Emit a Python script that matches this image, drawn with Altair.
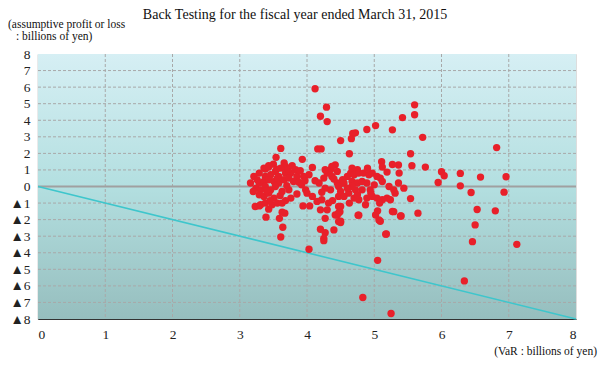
import altair as alt
import pandas as pd

# VaR (billions of yen) and assumptive profit/loss (billions of yen)
VAR = [
    4.12, 4.29, 4.20, 4.30, 4.89, 5.02, 4.72, 4.68, 4.66, 4.50, 4.16, 4.21, 4.63, 3.61, 3.54, 3.93, 4.08,
    5.60, 5.60, 5.42, 5.27, 5.72, 5.54, 6.82, 5.11, 5.12, 5.27, 5.36, 5.56, 5.76, 5.19, 5.37, 6.00, 6.04,
    6.28, 6.58, 6.96, 5.95, 6.28, 6.44, 6.93, 5.54, 6.53, 6.80, 6.50, 5.65, 5.40, 5.29,
    6.46, 7.12, 5.05, 6.34, 5.25, 5.18, 5.09, 5.05, 5.02,
    4.83, 4.03, 4.25, 4.20, 4.27, 4.40, 4.50, 4.27, 3.61, 3.64, 3.59, 3.67, 3.63, 3.39, 4.77, 4.49, 4.45,
    3.94, 4.04, 3.29, 3.23, 3.43, 4.25,
    3.43, 3.36, 3.66, 3.68, 3.61, 3.83, 3.53, 3.29, 3.21, 3.16, 3.38, 3.46, 3.58, 3.68, 3.76, 3.85, 3.95,
    4.03, 3.29, 3.36, 3.43, 3.51, 3.58, 3.66, 3.73, 3.80, 3.24, 3.31, 3.38, 3.46, 3.53, 3.29, 3.36, 3.43,
    3.51, 3.63, 3.73, 3.76, 3.98, 4.00, 3.31, 3.38, 3.48, 3.56, 3.63, 3.38, 3.43,
    3.50, 3.72, 3.90, 3.88, 3.70, 3.60, 3.45, 3.85, 3.92, 3.56, 3.26, 3.40, 3.55, 3.78, 3.97, 3.20, 3.68,
    4.18, 4.25, 4.30, 4.35, 4.42, 4.45, 4.37, 4.27, 4.35, 4.45, 4.52, 4.60, 4.08, 4.15, 4.22, 4.32, 4.47,
    4.47, 4.20, 4.30, 4.42, 4.47, 4.27, 4.37,
    4.67, 4.75, 4.65, 4.70, 4.77, 4.84, 4.92, 4.97, 5.04, 5.09, 5.12, 4.53, 4.55, 4.47, 4.50, 4.67, 4.75,
    4.82, 4.89, 4.94, 4.82, 4.72, 4.67, 5.22, 5.29, 5.36, 5.44, 5.31, 4.55, 4.62, 4.70, 4.77, 4.75, 4.89,
    4.97, 5.04, 5.12, 5.19, 5.24, 4.87, 4.50, 4.47, 4.50, 4.76, 5.07, 5.27, 5.39, 5.17, 4.63, 4.90, 5.00,
    4.60, 4.40, 4.12, 4.22, 4.95, 5.08, 4.38,
]
PL = [
    5.90, 4.79, 4.24, 3.92, 3.44, 3.68, 3.24, 3.20, 2.89, 2.77, 2.27, 2.27, 1.98, 2.30, 1.76, 1.64, 1.15,
    4.93, 4.33, 4.16, 3.42, 2.97, 1.98, 2.35, 1.50, 1.17, 1.33, 1.30, 1.25, 1.17, 0.87, 0.81, 0.89, 0.65,
    0.79, 0.57, 0.59, 0.24, 0.04, -0.36, -0.34, -0.73, -1.39, -1.47, -2.32, -1.61, -1.78, -1.52,
    -3.33, -3.49, -4.46, -5.70, -7.67, -2.87, -2.10, -1.47, -1.72,
    -6.70, -3.79, -3.27, -2.58, -2.79, -2.62, -2.18, -1.92, -3.05, -2.46, -1.92, -1.61, -1.55, -1.85, -1.73, -1.53, -1.72,
    -1.17, -1.17, -1.17, -1.21, -1.37, -3.13,
    1.25, 1.11, 1.42, 1.21, 1.11, 1.01, 0.91, 0.81, 0.61, 0.21, 0.61, 0.71, 0.61, 0.81, 0.81, 0.61, 0.61,
    0.71, 0.21, 0.30, 0.41, 0.30, 0.21, 0.41, 0.51, 0.30, -0.10, -0.20, 0.00, -0.20, 0.00, -0.50, -0.60, -0.40,
    -0.70, -0.30, -0.20, -0.70, -0.20, -0.40, -1.10, -1.00, -1.10, -1.00, -1.00, 1.05, 1.17,
    1.35, 1.05, 0.95, 0.25, 0.05, -0.55, -0.85, -0.45, 0.10, 0.50, 0.40, -0.25, 1.05, 1.25, 0.35, -0.30, -0.85,
    0.21, 0.51, 0.81, 1.01, 1.31, 0.91, 0.61, -0.10, -0.20, 0.21, 0.21, 0.61, -0.60, -0.90, -0.80, -1.00, -0.60,
    -1.21, -1.41, -1.41, -1.72, -2.12, 1.01, 1.21,
    1.11, 1.01, 0.81, 0.71, 0.81, 0.81, 0.71, 0.81, 0.61, 0.51, 0.30, 0.41, 0.21, 0.00, -0.30, 0.30, 0.21,
    0.30, 0.21, -0.20, -0.20, -0.20, 0.00, 0.00, -0.20, 0.21, -0.10, -0.40, -0.60, -0.40, -0.70, -0.80, -0.50, -0.70,
    -0.60, -0.70, -0.80, -0.70, -0.80, -1.10, -1.20, -1.60, -2.10, -1.73, -2.02, -1.51, -1.78, -2.88, -1.00, 1.10, 0.10,
    -0.10, 0.45, 0.35, -0.35, -0.40, -1.00, -0.85,
]

X_TICKS = [0, 1, 2, 3, 4, 5, 6, 7, 8]
Y_TICKS = [-8, -7, -6, -5, -4, -3, -2, -1, 0, 1, 2, 3, 4, 5, 6, 7, 8]
LINE_X = [0, 8]
LINE_Y = [0, -8]

TITLE = "Back Testing for the fiscal year ended March 31, 2015"
Y_TITLE = ["(assumptive profit or loss", ": billions of yen)"]
X_TITLE = "(VaR : billions of yen)"

pts = pd.DataFrame({"var": VAR, "pl": PL})
xs = alt.Scale(domain=[0, 8], nice=False, zero=False)
ys = alt.Scale(domain=[-8, 8], nice=False, zero=False)

label_font = "Liberation Sans Narrow"
serif = "Liberation Serif"

x_axis = alt.Axis(values=X_TICKS, grid=False, ticks=False, labelFont=label_font, labelFontSize=13.5,
                  labelColor="#222", domainColor="#333", domainWidth=1.2, labelPadding=8, title=None,
                  format="d", labelOverlap=False)
y_axis = alt.Axis(values=Y_TICKS, grid=False, ticks=False, labelFont=label_font, labelFontSize=13.5,
                  labelColor="#222", domainColor="#333", domainWidth=1.2, labelPadding=8, title=None,
                  labelOverlap=False, labelFlush=False,
                  labelExpr="datum.value < 0 ? '▲' + abs(datum.value) : '' + datum.value")

bg = alt.Chart(pd.DataFrame({"x0": [X_TICKS[0]], "x1": [X_TICKS[-1]], "y0": [Y_TICKS[0]], "y1": [Y_TICKS[-1]]})).mark_rect(
    color=alt.Gradient(gradient="linear", x1=0, y1=0, x2=0, y2=1,
                       stops=[alt.GradientStop(offset=0, color="#d6eff4"),
                              alt.GradientStop(offset=0.5, color="#b3dfe0"),
                              alt.GradientStop(offset=1, color="#96bebe")])
).encode(x=alt.X("x0:Q", scale=xs, axis=x_axis), x2="x1:Q",
         y=alt.Y("y0:Q", scale=ys, axis=y_axis), y2="y1:Q")

vgrid = alt.Chart(pd.DataFrame({"v": X_TICKS[1:-1]})).mark_rule(
    color="#a8a8a8", strokeDash=[3, 2], strokeWidth=1
).encode(x=alt.X("v:Q", scale=xs, axis=x_axis))

hgrid = alt.Chart(pd.DataFrame({"v": [t for t in Y_TICKS[1:-1] if t != 0]})).mark_rule(
    color="#a8a8a8", strokeDash=[3, 2], strokeWidth=1
).encode(y=alt.Y("v:Q", scale=ys, axis=y_axis))

zero = alt.Chart(pd.DataFrame({"v": [0]})).mark_rule(color="#a0a0a0", strokeWidth=2).encode(
    y=alt.Y("v:Q", scale=ys, axis=y_axis))

diag = alt.Chart(pd.DataFrame({"x": LINE_X, "y": LINE_Y})).mark_line(
    color="#3ec6cc", strokeWidth=1.6
).encode(x=alt.X("x:Q", scale=xs, axis=x_axis), y=alt.Y("y:Q", scale=ys, axis=y_axis))

points = alt.Chart(pts).mark_circle(color="#e8202a", opacity=1, size=54).encode(
    x=alt.X("var:Q", scale=xs, axis=x_axis), y=alt.Y("pl:Q", scale=ys, axis=y_axis))

title_t = alt.Chart(pd.DataFrame({"t": [TITLE]})).mark_text(
    font=serif, fontSize=14, color="#111", align="center", baseline="middle"
).encode(text="t:N", x=alt.value(257), y=alt.value(-39))

yt1 = alt.Chart(pd.DataFrame({"t": [Y_TITLE[0]]})).mark_text(
    font=serif, fontSize=11.5, color="#111", align="left", baseline="middle"
).encode(text="t:N", x=alt.value(-30), y=alt.value(-29))

yt2 = alt.Chart(pd.DataFrame({"t": [Y_TITLE[1]]})).mark_text(
    font=serif, fontSize=11.5, color="#111", align="left", baseline="middle"
).encode(text="t:N", x=alt.value(-22), y=alt.value(-17))

xt = alt.Chart(pd.DataFrame({"t": [X_TITLE]})).mark_text(
    font=serif, fontSize=11.5, color="#111", align="right", baseline="middle"
).encode(text="t:N", x=alt.value(559), y=alt.value(298))

chart = alt.layer(bg, vgrid, hgrid, zero, diag, points, title_t, yt1, yt2, xt).properties(
    width=538, height=265,
    autosize=alt.AutoSizeParams(type="none"),
    padding={"left": 30, "top": 46, "right": 23, "bottom": 40},
).configure_view(stroke="#9a9a9a", strokeWidth=1).configure(background="white")

chart.save("out.html", embed_options={"renderer": "svg", "actions": False})
